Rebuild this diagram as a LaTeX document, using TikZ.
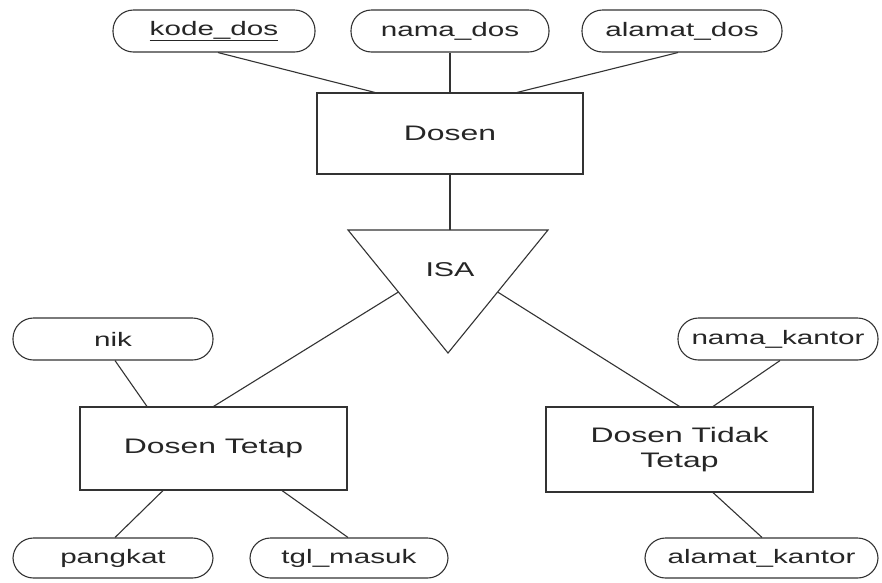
\documentclass[tikz,border=0pt]{standalone}
\usepackage{fontspec}
\setmainfont{Liberation Sans}[FakeStretch=1.52]
\usetikzlibrary{calc}
\definecolor{ink}{HTML}{333333}
\definecolor{txt}{HTML}{262626}
\begin{document}
\begin{tikzpicture}[x=1pt,y=-1pt,
  line width=1.1pt, draw=ink, text=txt,
  attr/.style={draw=ink, rounded corners=20.5pt, minimum height=42pt, inner sep=0pt, text=txt, font=\fontsize{19.5}{22}\selectfont},
  entity/.style={draw=ink, rectangle, inner sep=0pt, align=center, text=txt, font=\fontsize{21}{25}\selectfont},
  link/.style={draw=ink, line width=1.1pt}]
\useasboundingbox[fill=white] (0,0) rectangle (882,582);
% top entity and attributes
\node[attr, minimum width=202pt] (kode) at (214,31) {\underline{kode\_dos}};
\node[attr, minimum width=198pt] (nama) at (450,31) {nama\_dos};
\node[attr, minimum width=200pt] (alamat) at (682,31) {alamat\_dos};
\node[entity, minimum width=266pt, minimum height=81pt] (dosen) at (450,133.5) {Dosen};
% ISA triangle
\coordinate (tl) at (348,230);
\coordinate (tr) at (548,230);
\coordinate (tb) at (448,353);
\coordinate (ttop) at (450,230);
\coordinate (isaL) at ($(tl)!0.504!(tb)$);
\coordinate (isaR) at ($(tr)!0.504!(tb)$);
\draw[link, line join=miter] (tl) -- (tr) -- (tb) -- cycle;
\node[text=txt, font=\fontsize{20}{24}\selectfont] (isa) at (450,270) {ISA};
% subclasses
\node[entity, minimum width=267pt, minimum height=83pt] (dt) at (213.5,448.5) {Dosen Tetap};
\node[entity, minimum width=267pt, minimum height=85pt] (dtt) at (679.5,449.5) {Dosen Tidak\\Tetap};
\node[attr, minimum width=200pt] (nik) at (113,339) {nik};
\node[attr, minimum width=200pt, minimum height=40pt] (pangkat) at (113,558) {pangkat};
\node[attr, minimum width=198pt, minimum height=40pt] (tgl) at (349,558) {tgl\_masuk};
\node[attr, minimum width=200pt] (namak) at (778,339) {nama\_kantor};
\node[attr, minimum width=233pt, minimum height=40pt] (alamatk) at (761.5,558) {alamat\_kantor};
% connectors
\draw[link] ([xshift=4pt]kode.south) -- ([xshift=-75pt]dosen.north);
\draw[link] (nama.south) -- (dosen.north);
\draw[link] ([xshift=-4pt]alamat.south) -- ([xshift=67pt]dosen.north);
\draw[link] (dosen.south) -- (ttop);
\draw[link] (isaL) -- (dt.north);
\draw[link] (isaR) -- (dtt.north);
\draw[link] ([xshift=2pt]nik.south) -- ([xshift=-66.5pt]dt.north);
\draw[link] ([xshift=-50.5pt]dt.south) -- ([xshift=2pt]pangkat.north);
\draw[link] ([xshift=68.5pt]dt.south) -- ([xshift=-1pt]tgl.north);
\draw[link] ([xshift=2pt]namak.south) -- ([xshift=33.5pt]dtt.north);
\draw[link] ([xshift=33.5pt]dtt.south) -- ([xshift=0.5pt]alamatk.north);
\end{tikzpicture}
\end{document}
